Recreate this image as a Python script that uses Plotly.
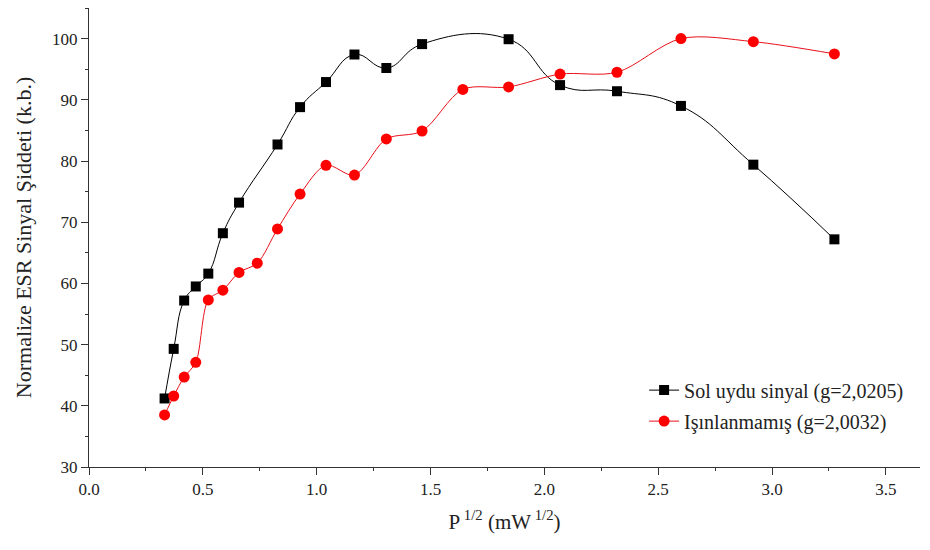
import plotly.graph_objects as go

x_black = [0.332, 0.372, 0.418, 0.469, 0.524, 0.588, 0.659, 0.828, 0.927, 1.041,
           1.166, 1.306, 1.463, 1.843, 2.069, 2.319, 2.600, 2.918, 3.274]
y_black = [41.2, 49.3, 57.2, 59.5, 61.6, 68.2, 73.2, 82.7, 88.8, 92.9,
           97.4, 95.2, 99.1, 99.9, 92.4, 91.4, 89.0, 79.4, 67.2]

x_red = [0.332, 0.372, 0.418, 0.469, 0.524, 0.588, 0.659, 0.739, 0.828, 0.927,
         1.041, 1.166, 1.306, 1.463, 1.642, 1.843, 2.069, 2.319, 2.600, 2.918, 3.274]
y_red = [38.5, 41.6, 44.7, 47.1, 57.3, 58.9, 61.8, 63.3, 68.9, 74.6,
         79.3, 77.7, 83.6, 84.9, 91.7, 92.1, 94.2, 94.5, 100.0, 99.5, 97.5]

name_black = "Sol uydu sinyal (g=2,0205)"
name_red = "Işınlanmamış (g=2,0032)"

x_title = "P<sup> 1/2</sup> (mW<sup> 1/2</sup>)"
y_title = "Normalize ESR Sinyal Şiddeti (k.b.)"

x_ticks = [0.0, 0.5, 1.0, 1.5, 2.0, 2.5, 3.0, 3.5]
y_ticks = [30, 40, 50, 60, 70, 80, 90, 100]

font_family = "Liberation Serif, Times New Roman, serif"

fig = go.Figure()
fig.add_trace(go.Scatter(
    x=x_black, y=y_black, mode="lines+markers", name=name_black,
    line=dict(color="black", width=1, shape="spline", smoothing=1.3),
    marker=dict(symbol="square", size=10, color="black"),
    legendgroup="a",
))
fig.add_trace(go.Scatter(
    x=x_red, y=y_red, mode="lines+markers", name=name_red,
    line=dict(color="#e8101a", width=1, shape="spline", smoothing=0.9),
    marker=dict(symbol="circle", size=11, color="#ff0000"),
    legendgroup="b",
))

axis_common = dict(
    showgrid=False, zeroline=False, showline=True, linecolor="#333333", linewidth=1,
    ticks="outside", ticklen=7, tickcolor="#333333", tickwidth=1,
    tickfont=dict(family=font_family, size=17, color="#222222"),
)

fig.update_xaxes(
    range=[0, 3.65], tickvals=x_ticks, ticktext=[f"{v:.1f}" for v in x_ticks],
    minor=dict(dtick=0.25, tick0=0, ticks="outside", ticklen=3, tickcolor="#333333"),
    title=dict(text=x_title, font=dict(family=font_family, size=21, color="#222222"), standoff=15),
    **axis_common,
)
fig.update_yaxes(
    range=[30, 105], tickvals=y_ticks,
    minor=dict(dtick=5, tick0=30, ticks="outside", ticklen=3, tickcolor="#333333"),
    title=dict(text=y_title, font=dict(family=font_family, size=22, color="#222222"), standoff=14),
    **axis_common,
)

fig.update_layout(
    width=930, height=550,
    margin=dict(l=89, r=10, t=8, b=83),
    plot_bgcolor="white", paper_bgcolor="white",
    font=dict(family=font_family),
    legend=dict(
        x=0.668, y=0.21, xanchor="left", yanchor="top",
        font=dict(family=font_family, size=20, color="#222222"),
        bgcolor="rgba(0,0,0,0)", tracegroupgap=2,
    ),
)

fig.write_html("out.html")
